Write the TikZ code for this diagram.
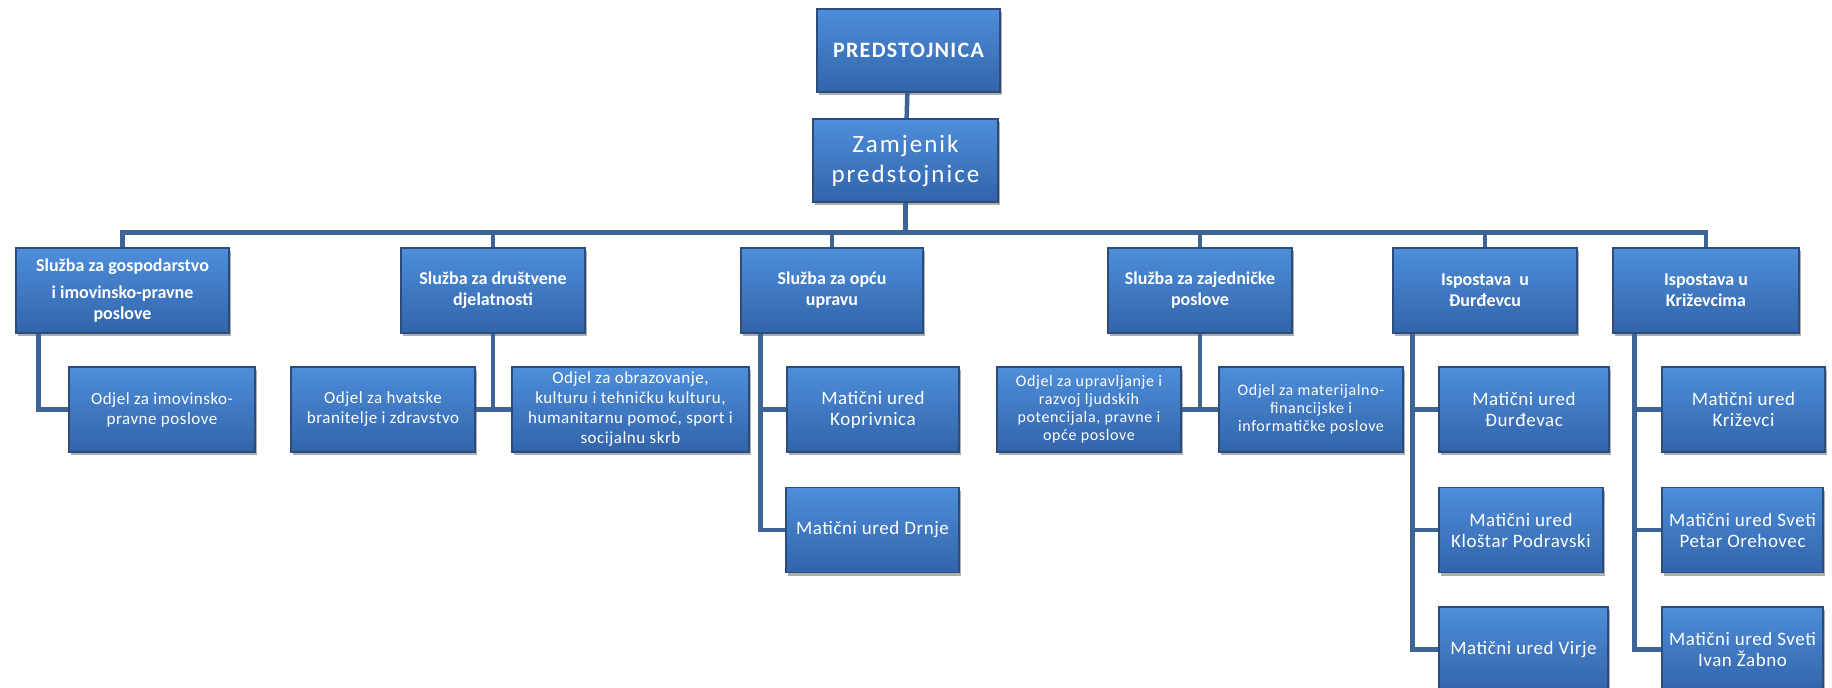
\documentclass[tikz,border=0pt]{standalone}
\usepackage{fontspec}
\setmainfont{Carlito}
\usepackage{tikz}
\usetikzlibrary{shadows}

\definecolor{boxtop}{RGB}{78,142,218}
\definecolor{boxbot}{RGB}{50,100,170}
\definecolor{boxline}{RGB}{44,76,124}
\definecolor{linkblue}{RGB}{62,100,150}

\begin{document}
\begin{tikzpicture}[
				      x=1pt, y=-1pt,
				      every node/.style = {shape=rectangle, draw=boxline, line width=1.2pt,
						      align=center, text=white, inner sep=2pt,
						      top color=boxtop, bottom color=boxbot,
						      drop shadow={shadow xshift=2pt, shadow yshift=-3pt,
							      fill=black!45, opacity=0.7}},
				      head/.style = {font=\fontsize{22}{26}\selectfont\bfseries\addfontfeatures{LetterSpace=6}},
				      deputy/.style = {font=\fontsize{25}{30}\selectfont\addfontfeatures{LetterSpace=8}},
				      office/.style = {font=\fontsize{18}{21}\selectfont\bfseries,
						      minimum height=85pt},
				      unit/.style = {font=\fontsize{17}{20}\selectfont\addfontfeatures{LetterSpace=3},
						      minimum height=85pt},
				      smallunit/.style = {font=\fontsize{16}{18}\selectfont\addfontfeatures{LetterSpace=4},
						      minimum height=85pt},
				      registry/.style = {font=\fontsize{19}{21}\selectfont\addfontfeatures{LetterSpace=3},
						      minimum height=85pt},
				      link/.style = {draw=linkblue, line width=4.5pt}
			      ]

			      \useasboundingbox (0,0) rectangle (1832,688);

			      \node[head, minimum width=183pt, minimum height=83pt] (pred) at (908.5,50.5) {PREDSTOJNICA};
			      \node[deputy, minimum width=185pt, minimum height=83pt] (zam) at (905.5,160.5) {Zamjenik\\predstojnice};

			      \node[office, minimum width=213pt] (gosp) at (122.5,290.5) {Služba za gospodarstvo\\[6pt]i imovinsko-pravne\\poslove};
			      \node[office, minimum width=184pt] (drus) at (493,290.5) {Služba za društvene\\djelatnosti};
			      \node[office, minimum width=182pt] (opca) at (832,290.5) {Služba za opću\\upravu};
			      \node[office, minimum width=184pt] (zaj) at (1200,290.5) {Služba za zajedničke\\poslove};
			      \node[office, minimum width=184pt] (isdj) at (1485,290.5) {Ispostava\ \ u\\Đurđevcu};
			      \node[office, minimum width=186pt] (iskz) at (1706,290.5) {Ispostava u\\Križevcima};

			      \node[unit, minimum width=186pt] (odim) at (162,409.5) {Odjel za imovinsko-\\pravne poslove};
			      \node[unit, minimum width=184pt] (odhr) at (383,409.5) {Odjel za hvatske\\branitelje i zdravstvo};
			      \node[unit, minimum width=237pt] (odob) at (630.5,409.5) {Odjel za obrazovanje,\\kulturu i tehničku kulturu,\\humanitarnu pomoć, sport i\\socijalnu skrb};
			      \node[registry, minimum width=172pt] (mkop) at (873,409.5) {Matični ured\\Koprivnica};
			      \node[smallunit, minimum width=184pt] (odup) at (1089,409.5) {Odjel za upravljanje i\\razvoj ljudskih\\potencijala, pravne i\\opće poslove};
			      \node[smallunit, minimum width=184pt] (odma) at (1311,409.5) {Odjel za materijalno-\\financijske i\\informatičke poslove};
			      \node[registry, minimum width=170pt] (mdj) at (1524,409.5) {Matični ured\\Đurđevac};
			      \node[registry, minimum width=163pt] (mkz) at (1743.5,409.5) {Matični ured\\Križevci};

			      \node[registry, minimum width=173pt] (mdr) at (872.5,530) {Matični ured Drnje};
			      \node[registry, minimum width=164pt] (mkl) at (1521,530) {Matični ured\\Kloštar Podravski};
			      \node[registry, minimum width=161pt] (msp) at (1742.5,530) {Matični ured Sveti\\Petar Orehovec};

			      \node[registry, minimum width=169pt] (mvi) at (1523.5,649.5) {Matični ured Virje};
			      \node[registry, minimum width=161pt] (msi) at (1742.5,649.5) {Matični ured Sveti\\Ivan Žabno};

			      \draw[link] (pred) -- (zam);
			      \foreach \office in {gosp,drus,opca,zaj,isdj,iskz}
				      \draw[link] (zam.south) -- ++(0,30) -| (\office.north);

			      \draw[link] ([xshift=23pt]gosp.south west) |- (odim.west);
			      \draw[link] (drus.south) -- (drus.south |- odhr.east);
			      \draw[link] (odhr.east) -- (odob.west);
			      \draw[link] (zaj.south) -- (zaj.south |- odup.east);
			      \draw[link] (odup.east) -- (odma.west);
			      \draw[link] ([xshift=20pt]opca.south west) |- (mkop.west);
			      \draw[link] ([xshift=20pt]opca.south west) |- (mdr.west);
			      \draw[link] ([xshift=20pt]isdj.south west) |- (mdj.west);
			      \draw[link] ([xshift=20pt]isdj.south west) |- (mkl.west);
			      \draw[link] ([xshift=20pt]isdj.south west) |- (mvi.west);
			      \draw[link] ([xshift=22pt]iskz.south west) |- (mkz.west);
			      \draw[link] ([xshift=22pt]iskz.south west) |- (msp.west);
			      \draw[link] ([xshift=22pt]iskz.south west) |- (msi.west);
		      \end{tikzpicture}
\end{document}
